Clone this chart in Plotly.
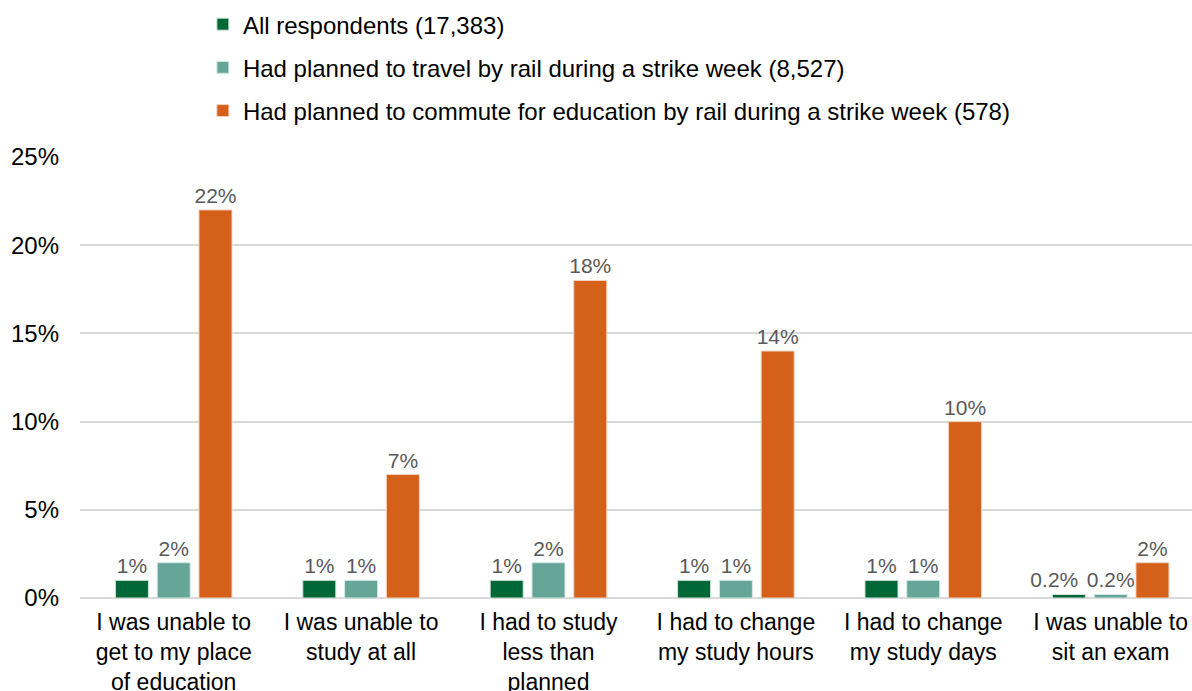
import plotly.graph_objects as go

# Survey impacts on education during strike weeks (% of respondents)
categories = [
    "I was unable to<br>get to my place<br>of education",
    "I was unable to<br>study at all",
    "I had to study<br>less than<br>planned",
    "I had to change<br>my study hours",
    "I had to change<br>my study days",
    "I was unable to<br>sit an exam",
]
all_respondents = [1, 1, 1, 1, 1, 0.2]
planned_rail = [2, 1, 2, 1, 1, 0.2]
planned_commute_education = [22, 7, 18, 14, 10, 2]

series_names = [
    "All respondents (17,383)",
    "Had planned to travel by rail during a strike week (8,527)",
    "Had planned to commute for education by rail during a strike week (578)",
]
series_values = [all_respondents, planned_rail, planned_commute_education]
colors = ["#006837", "#66a699", "#d4601a"]
edge_colors = ["#cfe3d6", "#d6e9e4", "#f3d3bd"]

y_ticks = [0, 5, 10, 15, 20, 25]
y_tick_labels = [f"{t}%" for t in y_ticks]

FONT = "Liberation Sans, Arial, sans-serif"
NBSP = "\u00a0"


def bar_label(value, series_index):
    label = f"{value:g}%"
    # nudge the leftmost small-value label aside so neighbouring labels don't collide
    if series_index == 0 and value < 0.5:
        label += NBSP * 5
    return label


fig = go.Figure()
for i, (name, vals, col, edge) in enumerate(zip(series_names, series_values, colors, edge_colors)):
    fig.add_trace(go.Bar(
        x=categories,
        y=vals,
        name=name,
        legendgroup=f"g{i}",
        marker=dict(color=col, line=dict(color=edge, width=1)),
        text=[bar_label(v, i) for v in vals],
        textposition="outside",
        constraintext="none",
        textfont=dict(family=FONT, size=21, color="#595959"),
        cliponaxis=False,
    ))

fig.update_layout(
    width=1192,
    height=691,
    barmode="group",
    bargap=0.331,
    bargroupgap=0.21,
    plot_bgcolor="white",
    paper_bgcolor="white",
    font=dict(family=FONT, size=24, color="#000000"),
    margin=dict(l=80, r=0, t=157, b=93),
    showlegend=True,
    legend=dict(
        orientation="v",
        x=0.1105,
        xanchor="left",
        y=0.997,
        yanchor="top",
        yref="container",
        font=dict(family=FONT, size=24, color="#000000"),
        tracegroupgap=9,
        bgcolor="rgba(0,0,0,0)",
    ),
    xaxis=dict(
        range=[-0.5, 5.434],
        showgrid=False,
        showline=False,
        ticks="",
        ticklabelstandoff=8,
        tickfont=dict(family=FONT, size=23, color="#000000"),
        automargin=False,
    ),
    yaxis=dict(
        range=[0, 25],
        tickvals=y_ticks,
        ticktext=y_tick_labels,
        showgrid=True,
        gridcolor="#d9d9d9",
        gridwidth=1.5,
        zeroline=True,
        zerolinecolor="#d9d9d9",
        zerolinewidth=2,
        showline=False,
        ticks="",
        ticklabelstandoff=20,
        tickfont=dict(family=FONT, size=24, color="#000000"),
        automargin=False,
    ),
)

fig.write_html("out.html")
